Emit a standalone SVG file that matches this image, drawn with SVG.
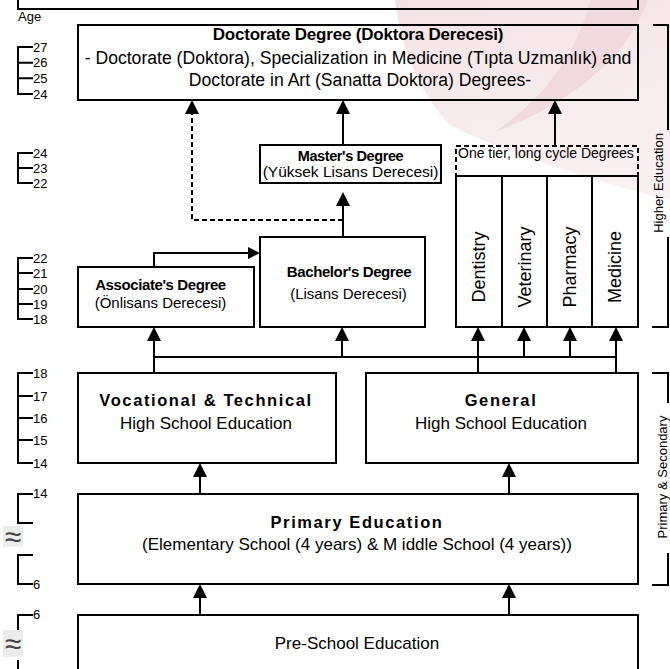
<svg xmlns="http://www.w3.org/2000/svg" width="670" height="669" viewBox="0 0 670 669">
<defs>
<style>
 .box{fill:none;stroke:#000;stroke-width:2}
 .dash{fill:none;stroke:#000;stroke-width:2;stroke-dasharray:5 3}
 .ln{fill:none;stroke:#000;stroke-width:2}
 text{font-family:"Liberation Sans",Arial,sans-serif;fill:#000}
 .t{font-size:17px;text-anchor:middle}
 .t15{font-size:15px;text-anchor:middle}
 .b15{font-size:15px;font-weight:bold;text-anchor:middle;letter-spacing:-0.4px}
 .sp{font-weight:bold;font-size:16.5px;letter-spacing:1.6px;text-anchor:middle}
 .age{font-size:13px}
 .vl{font-size:18px;text-anchor:middle}
 .side{font-size:13px;text-anchor:middle}
 .approx{font-size:30px;fill:#444;text-anchor:middle}
</style>
<marker id="ah" viewBox="0 0 10 10" refX="0" refY="5" markerWidth="14" markerHeight="14" markerUnits="userSpaceOnUse" orient="auto"><path d="M0,0 L10,5 L0,10 z" fill="#000"/></marker>
<marker id="ah2" viewBox="0 0 10 10" refX="0" refY="5" markerWidth="12" markerHeight="12" markerUnits="userSpaceOnUse" orient="auto"><path d="M0,0 L10,5 L0,10 z" fill="#000"/></marker>
<linearGradient id="wm" x1="0" y1="0" x2="0.3" y2="1">
<stop offset="0" stop-color="#f4e3e6"/>
<stop offset="1" stop-color="#f9f0f2"/>
</linearGradient>
</defs>
<rect width="670" height="669" fill="#fff"/>
<g id="watermark">
<path d="M395,0 H670 V200 C610,185 520,160 450,125 C420,95 400,45 395,0 Z" fill="url(#wm)"/>
<path d="M590,0 H648 C628,55 578,100 495,132 C548,95 578,50 590,0 Z" fill="#f1dadf"/>
</g>
<g id="top-box"><path class="ln" d="M18,0 V9 H638 V0"/></g>
<g id="age-axis">
<text class="age" x="18" y="21">Age</text>
<path class="ln" d="M33,47 H18 V94 H33 M18,62.7 H33 M18,78.3 H33"/>
<text class="age" x="33" y="52">27</text><text class="age" x="33" y="67">26</text><text class="age" x="33" y="83">25</text><text class="age" x="33" y="98.5">24</text>
<path class="ln" d="M33,153 H18 V183 H33 M18,168 H33"/>
<text class="age" x="33" y="157.5">24</text><text class="age" x="33" y="172.5">23</text><text class="age" x="33" y="187.5">22</text>
<path class="ln" d="M33,258 H18 V319 H33 M18,273 H33 M18,289 H33 M18,304 H33"/>
<text class="age" x="33" y="262.5">22</text><text class="age" x="33" y="277.5">21</text><text class="age" x="33" y="293.5">20</text><text class="age" x="33" y="308.5">19</text><text class="age" x="33" y="323.5">18</text>
<path class="ln" d="M33,373 H18 V463 H33 M18,396 H33 M18,418 H33 M18,440 H33"/>
<text class="age" x="33" y="377.5">18</text><text class="age" x="33" y="400.5">17</text><text class="age" x="33" y="422.5">16</text><text class="age" x="33" y="444.5">15</text><text class="age" x="33" y="467.5">14</text>
<path class="ln" d="M33,494 H18 V523 H33 M33,555 H18 V584 H33"/>
<text class="age" x="33" y="498">14</text><text class="age" x="33" y="588.5">6</text>
<rect x="3" y="526" width="20" height="21" fill="#ececec"/><text class="approx" x="13" y="547">≈</text>
<path class="ln" d="M33,615 H18 V630 M18,660 V669"/>
<text class="age" x="33" y="619">6</text>
<rect x="3" y="630" width="20" height="27" fill="#ececec"/><text class="approx" x="13" y="654">≈</text>
</g>
<g id="doctorate">
<rect class="box" x="78" y="25" width="560" height="75"/>
<text x="358" y="40" style="font-size:17px;font-weight:bold;text-anchor:middle;letter-spacing:-0.2px">Doctorate Degree (Doktora Derecesi)</text>
<text x="358" y="63.5" style="font-size:17.6px;text-anchor:middle">- Doctorate (Doktora), Specialization in Medicine (Tıpta Uzmanlık) and</text>
<text x="360" y="86" style="font-size:17.6px;text-anchor:middle">Doctorate in Art (Sanatta Doktora) Degrees-</text>
</g>
<g id="masters">
<rect class="box" x="260" y="145" width="181" height="38"/>
<text x="350.5" y="161" style="font-size:14.5px;font-weight:bold;text-anchor:middle;letter-spacing:-0.4px">Master's Degree</text>
<text x="350.5" y="177" style="font-size:15.5px;text-anchor:middle">(Yüksek Lisans Derecesi)</text>
</g>
<g id="one-tier">
<rect class="dash" x="456" y="146" width="182" height="30"/>
<text x="458" y="158" style="font-size:14px">One tier, long cycle Degrees</text>
</g>
<g id="dentistry"><rect class="box" x="456" y="176" width="46" height="151"/><text class="vl" transform="translate(485,267) rotate(-90)">Dentistry</text></g>
<g id="veterinary"><rect class="box" x="502" y="176" width="45" height="151"/><text class="vl" transform="translate(530.5,267) rotate(-90)">Veterinary</text></g>
<g id="pharmacy"><rect class="box" x="547" y="176" width="45" height="151"/><text class="vl" transform="translate(575.5,267) rotate(-90)">Pharmacy</text></g>
<g id="medicine"><rect class="box" x="592" y="176" width="46" height="151"/><text class="vl" transform="translate(621,267) rotate(-90)">Medicine</text></g>
<g id="bachelors">
<rect class="box" x="260" y="237" width="165" height="90"/>
<text class="b15" x="349" y="277">Bachelor's Degree</text>
<text class="t15" x="348.5" y="299">(Lisans Derecesi)</text>
</g>
<g id="associates">
<rect class="box" x="78" y="267" width="176" height="60"/>
<text class="b15" x="160.5" y="290">Associate's Degree</text>
<text class="t15" x="160.5" y="308">(Önlisans Derecesi)</text>
</g>
<g id="vocational">
<rect class="box" x="78" y="373" width="258" height="90"/>
<text class="sp" x="206" y="405.5">Vocational &amp; Technical</text>
<text class="t" x="206" y="429">High School Education</text>
</g>
<g id="general">
<rect class="box" x="366" y="373" width="272" height="90"/>
<text class="sp" x="501" y="405.5">General</text>
<text class="t" x="501" y="429">High School Education</text>
</g>
<g id="primary">
<rect class="box" x="78" y="494" width="560" height="90"/>
<text class="sp" x="357" y="528">Primary Education</text>
<text class="t" x="357" y="550">(Elementary School (4 years) &amp; M iddle School (4 years))</text>
</g>
<g id="preschool">
<path class="ln" d="M78,670 V615 H638 V670"/>
<text class="t" x="357" y="649">Pre-School Education</text>
</g>
<g id="side-labels">
<path class="ln" d="M653,25 H668 V130 M668,237 V327 H652"/>
<text class="side" transform="translate(663,183) rotate(-90)">Higher Education</text>
<path class="ln" d="M652,373 H668 V403 M668,553 V585 H652"/>
<text class="side" transform="translate(667,477) rotate(-90)">Primary &amp; Secondary</text>
</g>
<g id="connectors">
<path class="ln" d="M343,145 V114" marker-end="url(#ah)"/>
<path class="ln" d="M555,146 V114" marker-end="url(#ah)"/>
<path class="dash" d="M343,220 H192 V114" marker-end="url(#ah)"/>
<path class="ln" d="M343,237 V206" marker-end="url(#ah)"/>
<path class="ln" d="M154,267 V253 H248" marker-end="url(#ah2)"/>
<path class="ln" d="M154,357 H616"/>
<path class="ln" d="M154,373 V341" marker-end="url(#ah)"/>
<path class="ln" d="M342,357 V341" marker-end="url(#ah)"/>
<path class="ln" d="M478,373 V341" marker-end="url(#ah)"/>
<path class="ln" d="M524,357 V341" marker-end="url(#ah)"/>
<path class="ln" d="M570,357 V341" marker-end="url(#ah)"/>
<path class="ln" d="M616,373 V341" marker-end="url(#ah)"/>
<path class="ln" d="M200,494 V477" marker-end="url(#ah)"/>
<path class="ln" d="M509,494 V477" marker-end="url(#ah)"/>
<path class="ln" d="M200,615 V598" marker-end="url(#ah)"/>
<path class="ln" d="M509,615 V598" marker-end="url(#ah)"/>
</g>
</svg>
